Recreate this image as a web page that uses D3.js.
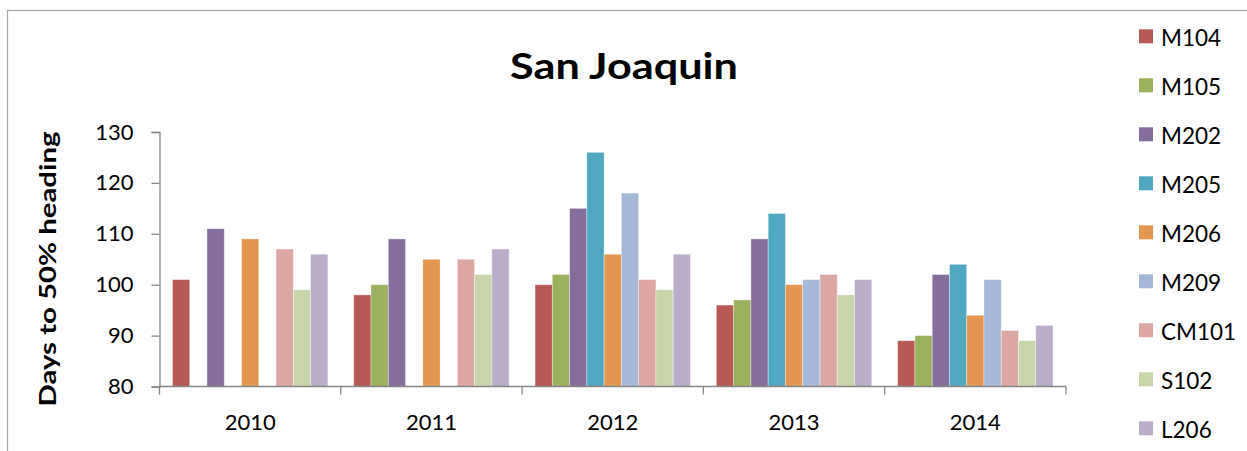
<!DOCTYPE html>
<html>
<head>
<script src="https://cdn.jsdelivr.net/npm/d3@7"></script>
<style>
  body { margin: 0; background: #fff; }
  text { font-family: Lato, "Open Sans", sans-serif; fill: #000; }
</style>
</head>
<body>
<script>
// data
const years = ["2010", "2011", "2012", "2013", "2014"];
const varieties = ["M104", "M105", "M202", "M205", "M206", "M209", "CM101", "S102", "L206"];
const M104  = [101, 98, 100, 96, 89];
const M105  = [null, 100, 102, 97, 90];
const M202  = [111, 109, 115, 109, 102];
const M205  = [null, null, 126, 114, 104];
const M206  = [109, 105, 106, 100, 94];
const M209  = [null, null, 118, 101, 101];
const CM101 = [107, 105, 101, 102, 91];
const S102  = [99, 102, 99, 98, 89];
const L206  = [106, 107, 106, 101, 92];
const yTicks = [80, 90, 100, 110, 120, 130];
const colors = ["#b85a54", "#9bb15e", "#856e9e", "#50a8c0", "#e3964f", "#a5b8d9", "#dca6a2", "#c7d5a9", "#baadca"];

const series = [M104, M105, M202, M205, M206, M209, CM101, S102, L206];

const W = 1247, H = 451;
const svg = d3.select("body").append("svg").attr("width", W).attr("height", H);

// chart frame
svg.append("rect").attr("x", 7.5).attr("y", 10.5).attr("width", W + 10).attr("height", H + 10)
  .attr("fill", "none").attr("stroke", "#a6a6a6").attr("stroke-width", 1.2);

const plotL = 159.5, plotR = 1066, plotT = 132, plotB = 386.5;

const x0 = d3.scaleBand().domain(years).range([plotL, plotR]).paddingInner(0).paddingOuter(0);
const barW = x0.bandwidth() / 10.5;
const x1 = d3.scaleBand().domain(varieties).range([0.75 * barW, x0.bandwidth() - 0.75 * barW]);
const y = d3.scaleLinear().domain([80, 130]).range([plotB, plotT]);

// bars
varieties.forEach((v, i) => {
  svg.append("g").selectAll("rect")
    .data(series[i].map((val, j) => ({ year: years[j], val })).filter(d => d.val != null))
    .join("rect")
    .attr("x", d => x0(d.year) + x1(v))
    .attr("y", d => y(d.val))
    .attr("width", x1.bandwidth())
    .attr("height", d => y(80) - y(d.val))
    .attr("fill", colors[i])
    .attr("stroke", "#fff").attr("stroke-opacity", 0.45).attr("stroke-width", 0.8);
});

// y axis
const yAxis = svg.append("g").attr("transform", `translate(${plotL},0)`)
  .call(d3.axisLeft(y).tickValues(yTicks).tickSize(8).tickPadding(18));
yAxis.select(".domain").attr("stroke", "#868686").attr("stroke-width", 1.3);
yAxis.selectAll(".tick line").attr("stroke", "#868686").attr("stroke-width", 1.3);
yAxis.selectAll(".tick text").attr("font-size", 22).attr("font-family", "Lato, sans-serif").attr("fill", "#000");

// x axis with ticks between categories
const xAxis = svg.append("g").attr("transform", `translate(0,${plotB})`);
xAxis.append("line").attr("x1", plotL).attr("x2", plotR).attr("stroke", "#868686").attr("stroke-width", 1.3);
xAxis.selectAll("line.sep").data(years.concat(["end"])).join("line").attr("class", "sep")
  .attr("x1", (d, i) => plotL + i * x0.bandwidth()).attr("x2", (d, i) => plotL + i * x0.bandwidth())
  .attr("y1", 0).attr("y2", 8).attr("stroke", "#868686").attr("stroke-width", 1.3);
xAxis.selectAll("text").data(years).join("text")
  .attr("x", d => x0(d) + x0.bandwidth() / 2).attr("y", 43)
  .attr("text-anchor", "middle").attr("font-size", 22).text(d => d);

// title
svg.append("text").attr("x", 624).attr("y", 79).attr("text-anchor", "middle")
  .attr("font-size", 36).attr("font-weight", "bold")
  .attr("textLength", 228).attr("lengthAdjust", "spacingAndGlyphs").text("San Joaquin");

// y label
svg.append("text").attr("transform", "translate(56,269) rotate(-90)").attr("text-anchor", "middle")
  .attr("font-size", 22.5).attr("font-weight", "bold")
  .attr("textLength", 275).attr("lengthAdjust", "spacingAndGlyphs").text("Days to 50% heading");

// legend
const leg = svg.append("g").selectAll("g").data(varieties).join("g")
  .attr("transform", (d, i) => `translate(1139,${36.3 + i * 49})`);
leg.append("rect").attr("x", 0).attr("y", -7).attr("width", 14).attr("height", 14)
  .attr("fill", (d, i) => colors[i]);
leg.append("text").attr("x", 22).attr("y", 9.5).attr("font-size", 22.5).text(d => d);
</script>
</body>
</html>
